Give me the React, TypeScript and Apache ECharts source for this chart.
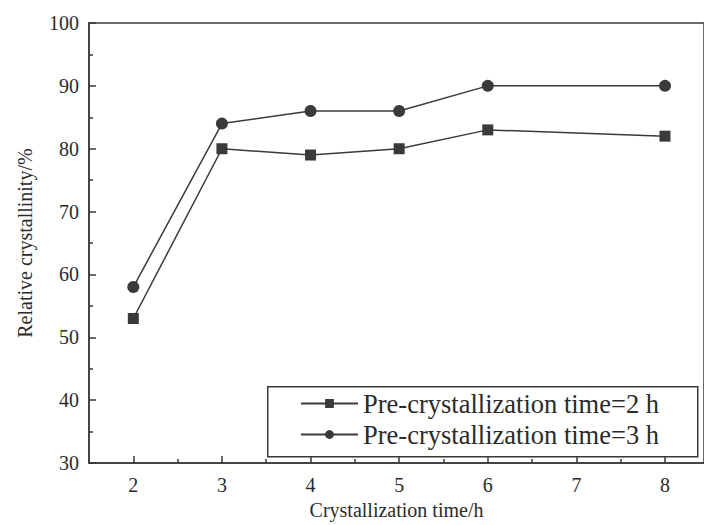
import React, { useEffect, useRef } from "react";
import * as echarts from "echarts";

const xValues = [2, 3, 4, 5, 6, 8];
const series2h = [53, 80, 79, 80, 83, 82];
const series3h = [58, 84, 86, 86, 90, 90];
const xMajorTicks = [2, 3, 4, 5, 6, 7, 8];
const xMinorTicks = [2.5, 3.5, 4.5, 5.5, 6.5, 7.5];
const seriesNames = ["Pre-crystallization time=2 h", "Pre-crystallization time=3 h"];

const INK = "#3a3a3a";
const TEXT = "#2b2b2b";
const FONT = "Liberation Serif";

export default function App() {
  const ref = useRef<HTMLDivElement>(null);
  useEffect(() => {
    if (!ref.current) return;
    const chart = echarts.init(ref.current, undefined, { renderer: "svg" });
    const toPairs = (ys: number[]) => xValues.map((x, i) => [x, ys[i]]);
    chart.setOption({
      animation: false,
      backgroundColor: "#ffffff",
      textStyle: { fontFamily: FONT, color: TEXT },
      grid: {
        left: 89,
        top: 23,
        right: -3,
        bottom: 58,
        show: true,
        borderColor: INK,
        borderWidth: 1.5,
        containLabel: false,
      },
      xAxis: [
        {
          type: "value",
          min: 1.5,
          max: 8.44,
          name: "Crystallization time/h",
          nameLocation: "middle",
          nameGap: 34,
          nameTextStyle: { fontSize: 20, color: TEXT, fontFamily: FONT },
          axisLine: { show: true, lineStyle: { color: INK, width: 1.5 } },
          axisTick: { show: true, inside: true, length: 7, customValues: xMajorTicks, lineStyle: { color: INK, width: 1.5 } },
          axisLabel: { show: true, customValues: xMajorTicks, fontSize: 20, color: TEXT, margin: 12, fontFamily: FONT },
          splitLine: { show: false },
        },
        {
          type: "value",
          min: 1.5,
          max: 8.44,
          position: "bottom",
          axisLine: { show: false },
          axisTick: { show: true, inside: true, length: 4, customValues: xMinorTicks, lineStyle: { color: INK, width: 1.5 } },
          axisLabel: { show: false },
          splitLine: { show: false },
        },
      ],
      yAxis: {
        type: "value",
        min: 30,
        max: 100,
        interval: 10,
        name: "Relative crystallinity/%",
        nameLocation: "middle",
        nameGap: 54,
        nameTextStyle: { fontSize: 20, color: TEXT, fontFamily: FONT },
        axisLine: { show: true, lineStyle: { color: INK, width: 1.5 } },
        axisTick: { show: true, inside: true, length: 7, lineStyle: { color: INK, width: 1.5 } },
        minorTick: { show: true, splitNumber: 2, length: 4, lineStyle: { color: INK, width: 1.5 } },
        axisLabel: { fontSize: 20, color: TEXT, margin: 10, fontFamily: FONT },
        splitLine: { show: false },
        minorSplitLine: { show: false },
      },
      legend: {
        orient: "vertical",
        left: 300,
        top: 390,
        padding: 0,
        itemWidth: 57,
        itemHeight: 11,
        itemGap: 4,
        textStyle: { fontSize: 26.5, lineHeight: 26, color: TEXT, fontFamily: FONT },
        data: seriesNames,
      },
      graphic: [
        {
          type: "rect",
          left: 267,
          top: 386,
          shape: { width: 430, height: 70 },
          style: { fill: "rgba(0,0,0,0)", stroke: INK, lineWidth: 1.5 },
          z: 10,
        },
      ],
      series: [
        {
          name: seriesNames[0],
          type: "line",
          data: toPairs(series2h),
          symbol: "rect",
          symbolSize: 11,
          lineStyle: { color: INK, width: 1.5 },
          itemStyle: { color: INK },
        },
        {
          name: seriesNames[1],
          type: "line",
          data: toPairs(series3h),
          symbol: "circle",
          symbolSize: 12,
          lineStyle: { color: INK, width: 1.5 },
          itemStyle: { color: INK },
        },
      ],
    });
    return () => chart.dispose();
  }, []);
  return (
    <div
      ref={ref}
      style={{ position: "fixed", left: 0, top: 0, width: 704, height: 525 }}
    />
  );
}
